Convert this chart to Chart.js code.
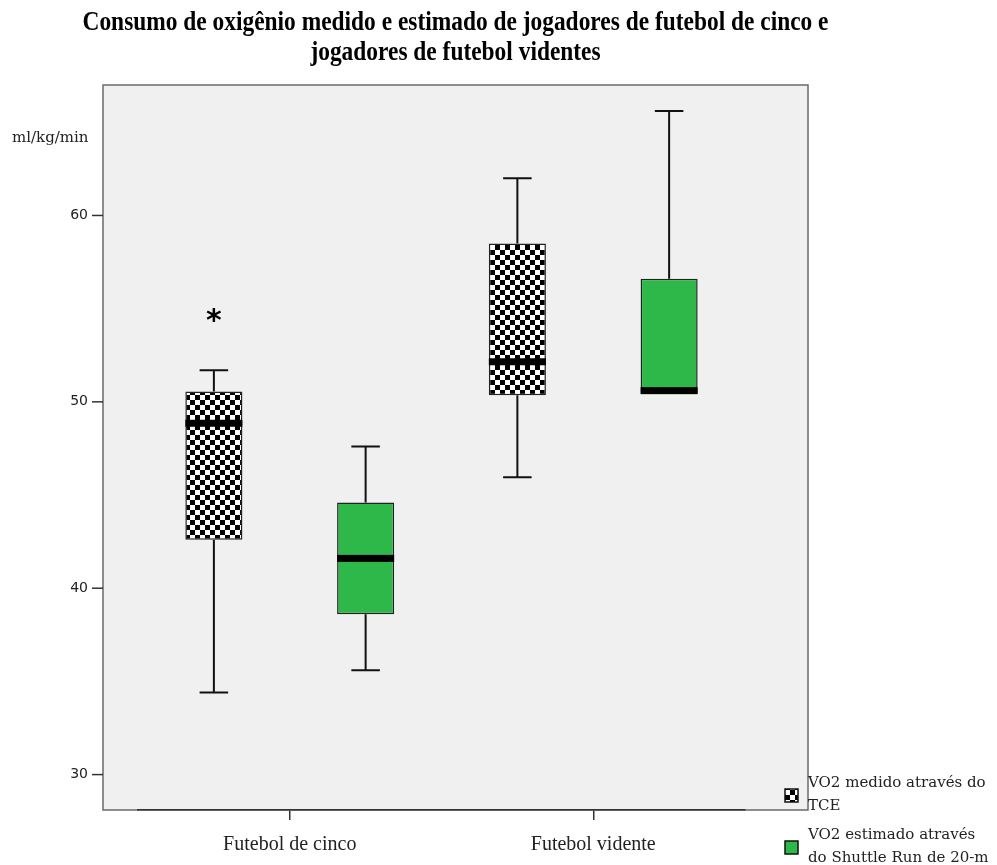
<!DOCTYPE html>
<html>
<head>
<meta charset="utf-8">
<script src="https://cdn.jsdelivr.net/npm/chart.js@4/dist/chart.umd.min.js"></script>
<style>
  body { margin: 0; background: #fff; }
  canvas { display: block; }
</style>
</head>
<body>
<canvas id="vo2-chart" width="997" height="865"></canvas>
<script>
// categorias e valores (ml/kg/min)
const categories = ['Futebol de cinco', 'Futebol vidente'];

const medidoMin    = [34.4, 45.95];
const medidoQ1     = [42.6, 50.35];
const medidoMedian = [48.85, 52.15];
const medidoQ3     = [50.55, 58.5];
const medidoMax    = [51.7, 62.0];
const medidoOutliers = [[54.6], []];

const estimadoMin    = [35.6, 50.45];
const estimadoQ1     = [38.6, 50.45];
const estimadoMedian = [41.6, 50.6];
const estimadoQ3     = [44.6, 56.6];
const estimadoMax    = [47.6, 65.6];
const estimadoOutliers = [[], []];

const yTicks = [30, 40, 50, 60];

const titleLines = ['Consumo de oxigênio medido e estimado de jogadores de futebol de cinco e',
                    'jogadores de futebol videntes'];
const legendLabels = [['VO2 medido através do', 'TCE'],
                      ['VO2 estimado através', 'do Shuttle Run de 20-m']];

// padrão xadrez (SPSS)
function makeChecker(cell) {
    let c = document.createElement('canvas');
    c.width = cell * 2;
    c.height = cell * 2;
    let g = c.getContext('2d');
    g.fillStyle = '#fff';
    g.fillRect(0, 0, c.width, c.height);
    g.fillStyle = '#000';
    g.fillRect(0, 0, cell, cell);
    g.fillRect(cell, cell, cell, cell);
    return g.createPattern(c, 'repeat');
}

const checker = makeChecker(5);
const green = '#2fb84a';

const boxStats = [
    { min: medidoMin, q1: medidoQ1, med: medidoMedian, q3: medidoQ3, max: medidoMax, out: medidoOutliers },
    { min: estimadoMin, q1: estimadoQ1, med: estimadoMedian, q3: estimadoQ3, max: estimadoMax, out: estimadoOutliers }
];

const boxPlugin = {
    id: 'boxplot',
    beforeDraw(chart) {
        const ctx = chart.ctx;
        const area = chart.chartArea;
        const y = chart.scales.y;
        ctx.save();
        ctx.fillStyle = '#fff';
        ctx.fillRect(0, 0, chart.width, chart.height);

        // moldura
        let fx = area.left - 35, fr = area.right + 63;
        ctx.fillStyle = '#f0f0f0';
        ctx.fillRect(fx, area.top, fr - fx, area.bottom - area.top);
        ctx.strokeStyle = '#6a6a6a';
        ctx.lineWidth = 1.5;
        ctx.strokeRect(fx, area.top, fr - fx, area.bottom - area.top);

        // eixo y
        ctx.strokeStyle = '#333';
        ctx.fillStyle = '#222';
        ctx.font = '14px "DejaVu Sans"';
        ctx.textAlign = 'right';
        ctx.textBaseline = 'middle';
        yTicks.forEach(v => {
            let py = y.getPixelForValue(v);
            ctx.beginPath();
            ctx.moveTo(fx - 11, py);
            ctx.lineTo(fx, py);
            ctx.stroke();
            ctx.fillText(v, fx - 15, py);
        });
        ctx.font = '15px "DejaVu Serif"';
        ctx.textAlign = 'left';
        ctx.fillText('ml/kg/min', 12, 138);

        // título
        ctx.fillStyle = '#000';
        ctx.font = 'bold 22px "Liberation Serif"';
        ctx.textAlign = 'center';
        let sx = 746 / ctx.measureText(titleLines[0]).width;
        titleLines.forEach((line, i) => {
            ctx.save();
            ctx.translate((fx + fr) / 2, 23 + i * 30);
            ctx.scale(sx, 1.2);
            ctx.fillText(line, 0, 0);
            ctx.restore();
        });

        // legenda
        const fills = [checker, green];
        ctx.font = '15px "DejaVu Serif"';
        ctx.textAlign = 'left';
        legendLabels.forEach((lines, i) => {
            let top = 783 + i * 52;
            ctx.fillStyle = fills[i];
            ctx.fillRect(785, top + 6, 13, 13);
            ctx.strokeStyle = '#111';
            ctx.lineWidth = 1.5;
            ctx.strokeRect(785, top + 6, 13, 13);
            ctx.fillStyle = '#222';
            lines.forEach((t, j) => ctx.fillText(t, 808, top + j * 23));
        });
        ctx.restore();
    },
    afterDatasetsDraw(chart) {
        const ctx = chart.ctx;
        const y = chart.scales.y;
        ctx.save();
        boxStats.forEach((s, di) => {
            const meta = chart.getDatasetMeta(di);
            meta.data.forEach((bar, i) => {
                let cx = bar.x, half = bar.width / 2, cap = bar.width / 4;
                ctx.strokeStyle = '#111';
                ctx.lineWidth = 2;
                ctx.beginPath();
                ctx.moveTo(cx, y.getPixelForValue(s.q3[i]));
                ctx.lineTo(cx, y.getPixelForValue(s.max[i]));
                ctx.moveTo(cx - cap, y.getPixelForValue(s.max[i]));
                ctx.lineTo(cx + cap, y.getPixelForValue(s.max[i]));
                if (s.min[i] < s.q1[i]) {
                    ctx.moveTo(cx, y.getPixelForValue(s.q1[i]));
                    ctx.lineTo(cx, y.getPixelForValue(s.min[i]));
                    ctx.moveTo(cx - cap, y.getPixelForValue(s.min[i]));
                    ctx.lineTo(cx + cap, y.getPixelForValue(s.min[i]));
                }
                ctx.stroke();

                // mediana
                ctx.fillStyle = '#000';
                let my = y.getPixelForValue(s.med[i]);
                ctx.fillRect(cx - half, my - 3.5, bar.width, 7);

                // outliers
                ctx.font = 'bold 30px "DejaVu Sans"';
                ctx.textAlign = 'center';
                ctx.textBaseline = 'middle';
                s.out[i].forEach(v => ctx.fillText('*', cx, y.getPixelForValue(v) + 6));
            });
        });
        ctx.restore();
    }
};

new Chart(document.getElementById('vo2-chart'), {
    type: 'bar',
    data: {
        labels: categories,
        datasets: [
            {
                label: legendLabels[0].join(' '),
                data: medidoQ1.map((q, i) => [q, medidoQ3[i]]),
                backgroundColor: checker,
                borderColor: '#222',
                borderWidth: 1.5,
                borderSkipped: false
            },
            {
                label: legendLabels[1].join(' '),
                data: estimadoQ1.map((q, i) => [q, estimadoQ3[i]]),
                backgroundColor: green,
                borderColor: '#222',
                borderWidth: 1.5,
                borderSkipped: false
            }
        ]
    },
    options: {
        responsive: false,
        animation: false,
        barPercentage: 0.376,
        categoryPercentage: 1.0,
        layout: { padding: { left: 138, right: 252, top: 85, bottom: 0 } },
        plugins: {
            legend: { display: false },
            title: { display: false },
            tooltip: { enabled: false }
        },
        scales: {
            x: {
                type: 'category',
                offset: true,
                grid: {
                    display: true,
                    drawOnChartArea: false,
                    offset: false,
                    tickLength: 10,
                    color: '#333',
                    lineWidth: 1.5
                },
                border: { display: true, color: '#333', width: 1.5 },
                ticks: {
                    font: { family: 'Liberation Serif', size: 20 },
                    color: '#222',
                    padding: 13
                },
                afterFit(scale) { scale.height = 55; }
            },
            y: {
                display: false,
                min: 28.1,
                max: 67
            }
        }
    },
    plugins: [boxPlugin]
});
</script>
</body>
</html>
